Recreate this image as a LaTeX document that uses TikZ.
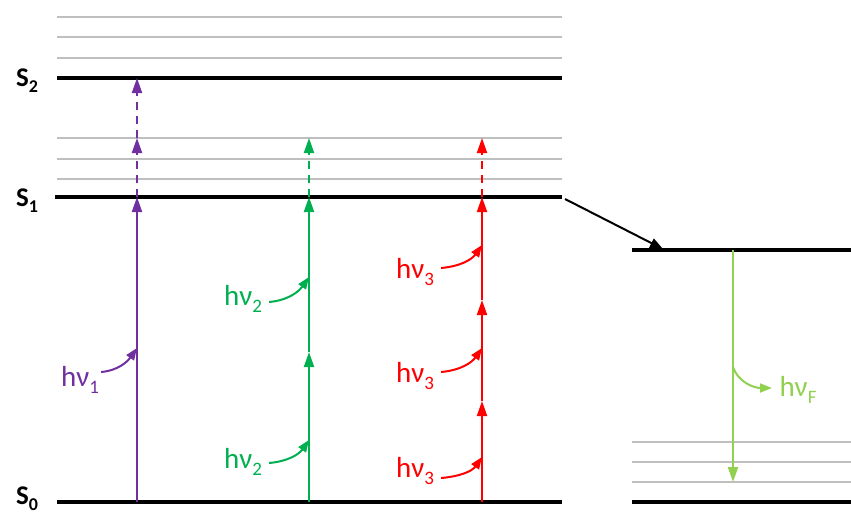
\documentclass[tikz,border=0pt]{standalone}
\usepackage{fontspec}
\setmainfont{Carlito}
\usepackage{tikz}
\usetikzlibrary{arrows.meta, calc}
\definecolor{levelgray}{HTML}{BFBFBF}
\definecolor{pvio}{HTML}{7030A0}
\definecolor{pgreen}{HTML}{00B050}
\definecolor{pred}{HTML}{FF0000}
\definecolor{plime}{HTML}{92D050}
\newcommand{\hnu}[1]{hν\raisebox{-7pt}{\fontsize{19}{19}\selectfont #1}}
\newcommand{\sstate}[1]{S\raisebox{-6pt}{\fontsize{18}{18}\selectfont #1}}
\tikzset{
  level/.style    = {line width=3.4pt, black},
  sublevel/.style = {line width=1.8pt, levelgray},
  exc/.style      = {-{Triangle[length=15pt,width=10pt]}, line width=2pt},
  excdash/.style  = {exc, dash pattern=on 8pt off 6pt},
  photon/.style   = {-{Triangle[length=12pt,width=9pt]}, line width=2pt},
  hvlabel/.style  = {font=\fontsize{29}{31}\selectfont, inner sep=0pt},
  slabel/.style   = {font=\fontsize{27}{29}\selectfont\bfseries, inner sep=0pt}
}
\begin{document}
\begin{tikzpicture}[x=1pt, y=-1pt]
\useasboundingbox (0,0) rectangle (851,517);

% ----- LEVELS (left block) -----
\foreach \y in {17,37,58,138,159,179}
  \draw[sublevel] (57,\y) -- (562,\y);
\draw[level] (57,78)  -- (562,78);
\draw[level] (55,197) -- (562,197);
\draw[level] (57,502) -- (562,502);

% ----- LEVELS (right block) -----
\foreach \y in {442,462,482}
  \draw[sublevel] (632,\y) -- (851,\y);
\draw[level] (632,250) -- (851,250);
\draw[level] (632,502) -- (851,502);

% ----- STATE LABELS -----
\node[slabel] (S2) at (27,81)  {\sstate{2}};
\node[slabel] (S1) at (27,201) {\sstate{1}};
\node[slabel] (S0) at (27,499) {\sstate{0}};

% ----- COORDINATES ON THE ARROWS -----
\coordinate (p0) at (137,502);  \coordinate (p1) at (137,197);
\coordinate (p2) at (137,138);  \coordinate (p3) at (137,78);
\coordinate (pa) at (137,348);
\coordinate (g0) at (309,502);  \coordinate (g1) at (309,352);
\coordinate (g2) at (309,197);  \coordinate (g3) at (309,138);
\coordinate (ga) at (309,440);  \coordinate (gb) at (309,277);
\coordinate (r0) at (482,502);  \coordinate (r1) at (482,401);
\coordinate (r2) at (482,300);  \coordinate (r3) at (482,197);
\coordinate (r4) at (482,138);
\coordinate (ra) at (482,457);  \coordinate (rb) at (482,348);
\coordinate (rc) at (482,245);
\coordinate (f0) at (733,250);  \coordinate (f1) at (733,482);
\coordinate (fa) at (733,367);  \coordinate (fb) at (772,388);
\coordinate (ic0) at (565,199); \coordinate (ic1) at (663,249);

% ----- PURPLE (one photon) -----
\draw[exc, pvio] (p0) -- (p1);
\draw[excdash, pvio] (p1) -- (p2);
\draw[excdash, pvio] (p2) -- (p3);
\node[hvlabel, pvio] (L1) at (80,380) {\hnu{1}};
\draw[photon, pvio] ($(L1.east)+(2,-8)$) to[out=5, in=235] (pa);

% ----- GREEN (two photons) -----
\draw[exc, pgreen] (g0) -- (g1);
\draw[exc, pgreen] (g1) -- (g2);
\draw[excdash, pgreen] (g2) -- (g3);
\node[hvlabel, pgreen] (L2a) at (243,462) {\hnu{2}};
\node[hvlabel, pgreen] (L2b) at (243,299) {\hnu{2}};
\draw[photon, pgreen] ($(L2a.east)+(7,1)$) to[out=5, in=235] (ga);
\draw[photon, pgreen] ($(L2b.east)+(7,3)$) to[out=5, in=235] (gb);

% ----- RED (three photons) -----
\draw[exc, pred] (r0) -- (r1);
\draw[exc, pred] (r1) -- (r2);
\draw[exc, pred] (r2) -- (r3);
\draw[excdash, pred] (r3) -- (r4);
\node[hvlabel, pred] (L3a) at (415,471) {\hnu{3}};
\node[hvlabel, pred] (L3b) at (415,376) {\hnu{3}};
\node[hvlabel, pred] (L3c) at (415,272) {\hnu{3}};
\draw[photon, pred] ($(L3a.east)+(7,7)$) to[out=5, in=235] (ra);
\draw[photon, pred] ($(L3b.east)+(7,-4)$) to[out=5, in=235] (rb);
\draw[photon, pred] ($(L3c.east)+(7,-4)$) to[out=5, in=235] (rc);

% ----- RELAXATION + FLUORESCENCE -----
\draw[-{Triangle[length=13pt,width=10pt]}, line width=2pt] (ic0) -- (ic1);
\draw[exc, plime] (f0) -- (f1);
\node[hvlabel, plime] (LF) at (798,390) {\hnu{F}};
\draw[photon, plime] (fa) to[out=-70, in=180] (fb);

\end{tikzpicture}
\end{document}
